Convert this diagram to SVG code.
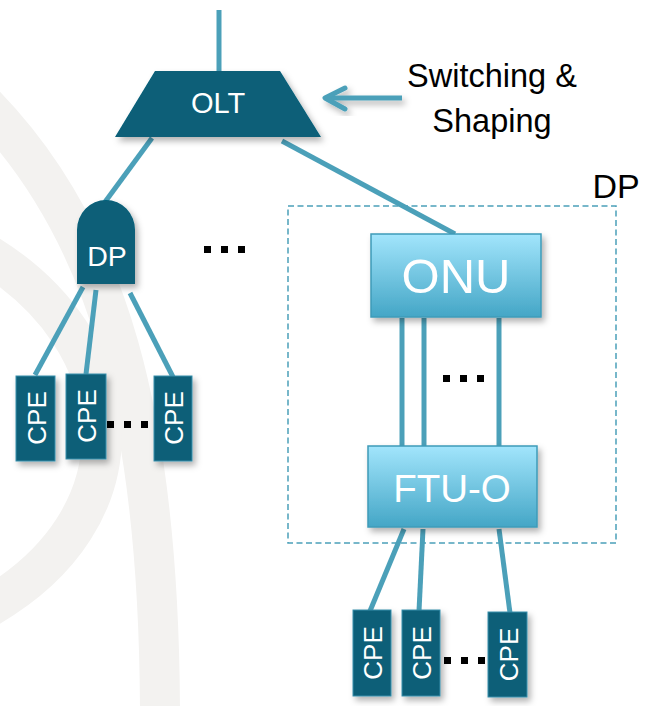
<svg xmlns="http://www.w3.org/2000/svg" width="654" height="706" viewBox="0 0 654 706">
  <defs>
    <linearGradient id="boxGrad" x1="0" y1="0" x2="0" y2="1">
      <stop offset="0" stop-color="#a2e5fc"/>
      <stop offset="1" stop-color="#44a6c6"/>
    </linearGradient>
    <filter id="shadow" x="-20%" y="-20%" width="150%" height="150%">
      <feDropShadow dx="3" dy="4" stdDeviation="3" flood-color="#000" flood-opacity="0.3"/>
    </filter>
  </defs>
  <style>
    .bg { fill: none; stroke: #f3f2f0; stroke-width: 40; }
    .link { stroke: #4ba0b9; stroke-width: 5; fill: none; }
    .dark { fill: #075e78; filter: url(#shadow); }
    .cpe { fill: #075e78; stroke: #3a8fab; stroke-width: 1; filter: url(#shadow); }
    .light { fill: url(#boxGrad); stroke: #3e9bb8; stroke-width: 1.5; filter: url(#shadow); }
    .wt { fill: #ffffff; font-family: "Liberation Sans", Arial, sans-serif; text-anchor: middle; }
    .bt { fill: #000000; font-family: "Liberation Sans", Arial, sans-serif; text-anchor: middle; }
    .dot { fill: #000000; }
  </style>

  <rect width="654" height="706" fill="#ffffff"/>

  <!-- faint background bands -->
  <g id="background">
    <path class="bg" d="M -20,100 C 110,230 160,420 160,720"/>
    <path class="bg" d="M -20,250 C 135,340 150,520 -20,612"/>
  </g>

  <!-- connectors -->
  <g id="connectors">
    <line class="link" x1="219" y1="10" x2="219" y2="72"/>
    <line class="link" x1="152" y1="138" x2="105" y2="202"/>
    <line class="link" x1="282" y1="141" x2="455" y2="234"/>
    <!-- DP to left CPEs -->
    <line class="link" x1="83" y1="287" x2="35" y2="375"/>
    <line class="link" x1="96" y1="290" x2="86" y2="374"/>
    <line class="link" x1="130" y1="293" x2="173" y2="377"/>
    <!-- ONU to FTU-O -->
    <line class="link" x1="402" y1="318" x2="402" y2="446"/>
    <line class="link" x1="424" y1="318" x2="424" y2="446"/>
    <line class="link" x1="499" y1="318" x2="499" y2="446"/>
    <!-- FTU-O to bottom CPEs -->
    <line class="link" x1="404" y1="529" x2="370" y2="611"/>
    <line class="link" x1="423" y1="529" x2="419" y2="611"/>
    <line class="link" x1="499" y1="529" x2="510" y2="613"/>
    <!-- switching & shaping arrow -->
    <g filter="url(#shadow)">
      <line class="link" x1="326" y1="98" x2="402" y2="98"/>
      <polyline class="link" points="345,88 325,98 345,109" stroke-linecap="round" stroke-linejoin="round"/>
    </g>
  </g>

  <!-- OLT -->
  <g id="olt">
    <polygon class="dark" points="155,71 280,71 321,137 115,137"/>
    <text class="wt" x="218" y="113" font-size="29">OLT</text>
  </g>

  <!-- annotation -->
  <g id="note">
    <text class="bt" x="492" y="87" font-size="32.5">Switching &amp;</text>
    <text class="bt" x="492" y="132" font-size="32.5">Shaping</text>
  </g>

  <!-- left DP -->
  <g id="dp-left">
    <path class="dark" d="M 77,284 V 230 A 29,30 0 0 1 135,230 V 284 Z"/>
    <text class="wt" x="107" y="266" font-size="28.5">DP</text>
  </g>

  <g id="dots-mid">
    <rect class="dot" x="204" y="246" width="7" height="7"/>
    <rect class="dot" x="221" y="246" width="7" height="7"/>
    <rect class="dot" x="238" y="246" width="7" height="7"/>
  </g>

  <!-- left CPEs -->
  <g id="cpe-l1">
    <rect class="cpe" x="16" y="376" width="39" height="85"/>
    <text class="wt" font-size="26" transform="translate(36,418) rotate(-90)" y="10">CPE</text>
  </g>
  <g id="cpe-l2">
    <rect class="cpe" x="66" y="374" width="40" height="85"/>
    <text class="wt" font-size="26" transform="translate(86,416) rotate(-90)" y="10">CPE</text>
  </g>
  <g id="cpe-l3">
    <rect class="cpe" x="154" y="376" width="38" height="85"/>
    <text class="wt" font-size="26" transform="translate(173,418) rotate(-90)" y="10">CPE</text>
  </g>
  <g id="dots-left">
    <rect class="dot" x="107" y="421" width="7" height="7"/>
    <rect class="dot" x="124" y="421" width="7" height="7"/>
    <rect class="dot" x="141" y="421" width="7" height="7"/>
  </g>

  <!-- DP enclosure -->
  <g id="dp-box">
    <rect x="288" y="206" width="328" height="337" fill="none" stroke="#4ba0b9" stroke-width="1.5" stroke-dasharray="6,3.5"/>
    <text class="bt" x="616" y="198" font-size="34">DP</text>
  </g>

  <!-- ONU -->
  <g id="onu">
    <rect class="light" x="371" y="234" width="170" height="83"/>
    <text class="wt" x="456" y="293" font-size="49">ONU</text>
  </g>

  <g id="dots-onu">
    <rect class="dot" x="443" y="375" width="7" height="7"/>
    <rect class="dot" x="460" y="375" width="7" height="7"/>
    <rect class="dot" x="477" y="375" width="7" height="7"/>
  </g>

  <!-- FTU-O -->
  <g id="ftu-o">
    <rect class="light" x="368" y="446" width="169" height="81"/>
    <text class="wt" x="452" y="502" font-size="38.5">FTU-O</text>
  </g>

  <!-- bottom CPEs -->
  <g id="cpe-b1">
    <rect class="cpe" x="353" y="610" width="38" height="86"/>
    <text class="wt" font-size="26" transform="translate(372,653) rotate(-90)" y="10">CPE</text>
  </g>
  <g id="cpe-b2">
    <rect class="cpe" x="402" y="610" width="38" height="86"/>
    <text class="wt" font-size="26" transform="translate(421,653) rotate(-90)" y="10">CPE</text>
  </g>
  <g id="cpe-b3">
    <rect class="cpe" x="488" y="612" width="39" height="85"/>
    <text class="wt" font-size="26" transform="translate(507.5,654.5) rotate(-90)" y="10">CPE</text>
  </g>
  <g id="dots-bottom">
    <rect class="dot" x="444" y="657" width="7" height="7"/>
    <rect class="dot" x="461" y="657" width="7" height="7"/>
    <rect class="dot" x="478" y="657" width="7" height="7"/>
  </g>
</svg>
